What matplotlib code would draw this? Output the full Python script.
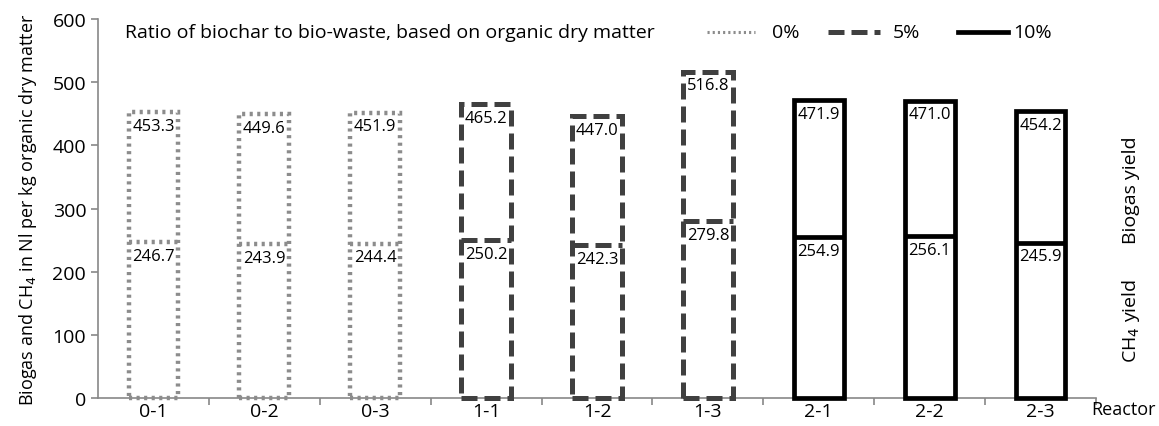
import matplotlib.pyplot as plt
import numpy as np

plt.rcParams['font.family'] = ['Open Sans', 'DejaVu Sans']

reactors = ["0-1", "0-2", "0-3", "1-1", "1-2", "1-3", "2-1", "2-2", "2-3"]
biogas = [453.3, 449.6, 451.9, 465.2, 447.0, 516.8, 471.9, 471.0, 454.2]
ch4 = [246.7, 243.9, 244.4, 250.2, 242.3, 279.8, 254.9, 256.1, 245.9]
group = [0, 0, 0, 1, 1, 1, 2, 2, 2]
ratio_labels = ["0%", "5%", "10%"]

styles = [
    dict(color="#8c8c8c", ls=(0, (0.7, 1.0)), lw=3.2),
    dict(color="#404040", ls=(0, (3.2, 1.4)), lw=3.6),
    dict(color="black", ls="-", lw=3.4),
]

fig = plt.figure(figsize=(11.59, 4.27), dpi=100)
ax = fig.add_axes([0.0846, 0.0656, 0.861, 0.887])

x = np.arange(len(reactors))
w = 0.45
for i in x:
    st = styles[group[i]]
    ax.bar(i, biogas[i], width=w, fill=False, edgecolor=st["color"],
           linestyle=st["ls"], linewidth=st["lw"], clip_on=False, zorder=3)
    ax.hlines(ch4[i], i - w / 2, i + w / 2, color=st["color"],
              linestyle=st["ls"], linewidth=st["lw"], zorder=3)
    ax.text(i, biogas[i] - 9, f"{biogas[i]:.1f}", ha="center", va="top", fontsize=12)
    ax.text(i, ch4[i] - 9, f"{ch4[i]:.1f}", ha="center", va="top", fontsize=12)

ax.set_xlim(-0.5, len(reactors) - 0.5)
ax.set_ylim(0, 600)
ax.set_yticks(range(0, 601, 100))
ax.set_xticks(x)
ax.set_xticklabels(reactors, fontsize=14)
ax.set_xticks(np.arange(0.5, len(reactors), 1), minor=True)
ax.tick_params(axis="x", which="major", length=0, pad=3)
ax.tick_params(axis="x", which="minor", length=5, color="#888888", width=1.2)
ax.tick_params(axis="y", length=5, color="#888888", width=1.2, labelsize=14)
for s in ["top", "right"]:
    ax.spines[s].set_visible(False)
for s in ["left", "bottom"]:
    ax.spines[s].set_color("#888888")
    ax.spines[s].set_linewidth(1.2)

ax.set_ylabel("Biogas and CH$_4$ in Nl per kg organic dry matter", fontsize=13, labelpad=10)
fig.text(1156 / 1159, 1 - 410 / 427, "Reactor", ha="right", va="center", fontsize=13)

ax.text(1.035, 0.55, "Biogas yield", transform=ax.transAxes, rotation=90,
        ha="center", va="center", fontsize=14)
ax.text(1.035, 0.205, "CH$_4$ yield", transform=ax.transAxes, rotation=90,
        ha="center", va="center", fontsize=14)

# legend drawn as text + lines in figure coords
ly = 1 - 33 / 427
fig.text(125 / 1159, ly, "Ratio of biochar to bio-waste, based on organic dry matter",
         ha="left", va="center", fontsize=14)
legx = [(707, 755, 772), (828, 880, 893), (958, 1008, 1013)]
for k, ((x0, x1, tx), st, lab) in enumerate(zip(legx, styles, ratio_labels)):
    lw = 2.2 if k == 0 else st["lw"]
    fig.add_artist(plt.Line2D([x0 / 1159, x1 / 1159], [ly, ly], color=st["color"],
                              linestyle=st["ls"], linewidth=lw))
    fig.text(tx / 1159, ly, lab, ha="left", va="center", fontsize=14)

fig.savefig("out.png", dpi=100)
